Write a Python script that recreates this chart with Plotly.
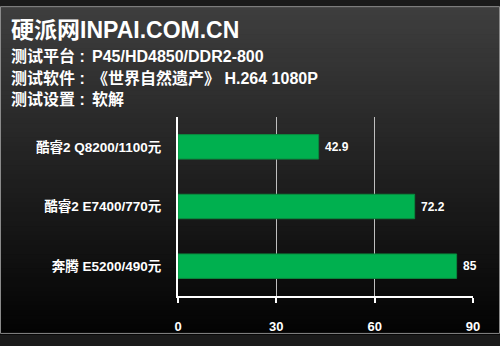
import plotly.graph_objects as go

categories = ["奔腾 E5200/490元", "酷睿2 E7400/770元", "酷睿2 Q8200/1100元"]
values = [85, 72.2, 42.9]
value_labels = ["85", "72.2", "42.9"]
tick_vals = [0, 30, 60, 90]
tick_text = ["0", "30", "60", "90"]
title_text = "硬派网INPAI.COM.CN"
info_labels = ["测试平台 :", "测试软件 :", "测试设置 :"]
info_values = ["P45/HD4850/DDR2-800", "《世界自然遗产》 H.264 1080P", "软解"]

FONT = "Liberation Sans, Noto Sans CJK SC, sans-serif"
W, H = 500, 346
ML, MR, MT, MB = 178, 27, 117, 40
PH = H - MT - MB
PW = W - ML - MR

fig = go.Figure()
fig.add_trace(go.Bar(
    y=categories, x=values, orientation="h",
    marker=dict(color="#00b04f", line=dict(color="#0a8a3e", width=1)),
    width=0.41,
    text=value_labels, textposition="outside",
    texttemplate=" <b>%{text}</b>",
    textfont=dict(color="white", size=12, family=FONT, weight="bold"),
    cliponaxis=False,
))

# gradient background over the whole figure (paper coordinates)
def py(pix_from_top):
    return 1 - (pix_from_top - MT) / PH

def px(pix_from_left):
    return (pix_from_left - ML) / PW

shapes = []
n = 70
for i in range(n):
    t = i / (n - 1)
    c = int(round(62 * (1 - t) + 3 * t))
    top = H * i / n
    bot = H * (i + 1) / n + 1
    shapes.append(dict(type="rect", xref="paper", yref="paper",
                       x0=px(0), x1=px(W), y0=py(bot), y1=py(top),
                       fillcolor=f"rgb({c},{c},{c})", line=dict(width=0),
                       layer="below"))
shapes.append(dict(type="rect", xref="paper", yref="paper",
                   x0=px(0.5), x1=px(W - 0.5), y0=py(H - 0.5), y1=py(0.5),
                   line=dict(color="#8a8a8a", width=1), layer="above"))

annotations = [dict(text=f"<b>{title_text}</b>", xref="paper", yref="paper",
                    x=px(9), y=py(25), xanchor="left", yanchor="middle",
                    showarrow=False, font=dict(color="white", size=23, family=FONT))]
for k, (lab, val) in enumerate(zip(info_labels, info_values)):
    yc = 53 + 23 * k
    annotations.append(dict(text=f"<b>{lab}</b>", xref="paper", yref="paper",
                            x=px(9), y=py(yc), xanchor="left", yanchor="middle",
                            showarrow=False,
                            font=dict(color="white", size=16, family=FONT)))
    annotations.append(dict(text=f"<b>{val}</b>", xref="paper", yref="paper",
                            x=px(90), y=py(yc), xanchor="left", yanchor="middle",
                            showarrow=False,
                            font=dict(color="white", size=16, family=FONT)))

fig.update_layout(
    width=W, height=H,
    margin=dict(l=ML, r=MR, t=MT, b=MB),
    paper_bgcolor="#1a1a1a", plot_bgcolor="rgba(0,0,0,0)",
    showlegend=False,
    shapes=shapes,
    annotations=annotations,
    xaxis=dict(range=[0, 90], tickvals=tick_vals, ticktext=tick_text,
               showgrid=True,
               gridcolor="#bfbfbf", gridwidth=1, zeroline=False,
               showline=True, linecolor="white", linewidth=2,
               ticks="outside", ticklen=5, tickcolor="white", tickwidth=2,
               tickfont=dict(color="white", size=13, family=FONT, weight="bold"),
               ticklabelstandoff=12),
    yaxis=dict(categoryorder="array", categoryarray=categories,
               showline=True, linecolor="white", linewidth=2,
               showgrid=False, ticks="", ticklabelstandoff=12,
               tickfont=dict(color="white", size=13.5, family=FONT, weight="bold")),
)

fig.write_html("out.html")
